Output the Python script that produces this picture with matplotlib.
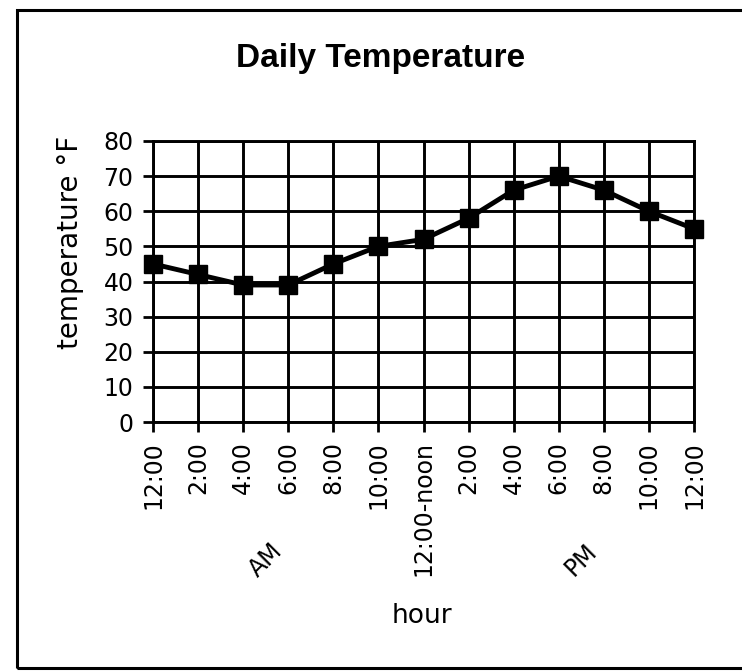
import matplotlib.pyplot as plt
from matplotlib.patches import Rectangle
from matplotlib.transforms import blended_transform_factory

# data
hours = ['12:00', '2:00', '4:00', '6:00', '8:00', '10:00', '12:00-noon',
         '2:00', '4:00', '6:00', '8:00', '10:00', '12:00']
temps = [45, 42, 39, 39, 45, 50, 52, 58, 66, 70, 66, 60, 55]
yticks = [0, 10, 20, 30, 40, 50, 60, 70, 80]
groups = ['AM', 'PM']
group_pos = [2.5, 9.5]

fig = plt.figure(figsize=(7.42, 6.71), dpi=100)
fig.patch.set_facecolor('white')

# outer frame of the chart (cut off at right edge like the scan)
fig.patches.append(Rectangle((17 / 742, 3 / 671), 740 / 742, 658 / 671,
                             transform=fig.transFigure, fill=False,
                             edgecolor='black', linewidth=2.2))

ax = fig.add_axes([153 / 742, 1 - 422 / 671, 541 / 742, 281 / 671])

x = list(range(len(hours)))
ax.plot(x, temps, color='black', linewidth=3.5, marker='s', markersize=12.5,
        clip_on=False, zorder=5)

ax.set_xlim(0, len(hours) - 1)
ax.set_ylim(0, 80)
ax.set_xticks(x)
ax.set_xticklabels(hours, rotation=90, fontsize=17, family='DejaVu Sans')
ax.set_yticks(yticks)
ax.set_yticklabels([str(v) for v in yticks], fontsize=17, family='DejaVu Sans')
ax.tick_params(axis='both', direction='out', length=7, width=2, pad=7, colors='black')
ax.grid(True, color='black', linewidth=2.1)
ax.set_axisbelow(True)
for s in ax.spines.values():
    s.set_linewidth(2.1)

# AM / PM group labels
tr = blended_transform_factory(ax.transData, fig.transFigure)
for g, p in zip(groups, group_pos):
    ax.text(p, 1 - 560 / 671, g, transform=tr, rotation=45, fontsize=17,
            ha='center', va='center', family='DejaVu Sans')

fig.text(381 / 742, 1 - 59 / 671, 'Daily Temperature', fontsize=24,
         fontweight='bold', family='Liberation Sans', ha='center', va='center')
fig.text(70 / 742, 1 - 242 / 671, 'temperature \u00b0F', rotation=90,
         fontsize=20, ha='center', va='center', family='DejaVu Sans')
fig.text(422 / 742, 1 - 616 / 671, 'hour', fontsize=19, ha='center',
         va='center', family='DejaVu Sans')

fig.savefig('out.png', dpi=100)
